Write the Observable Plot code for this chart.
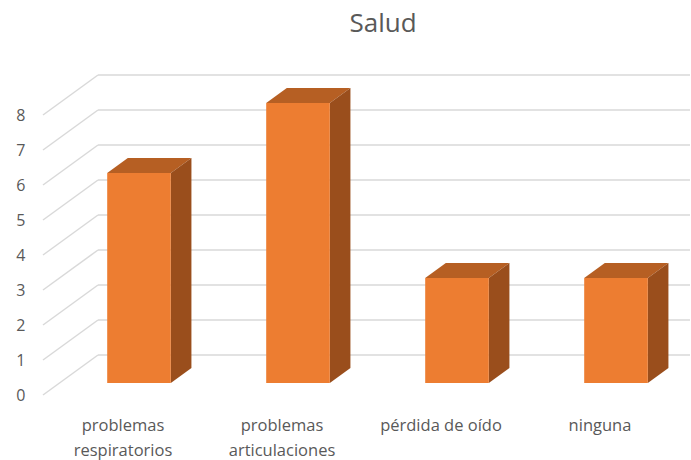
<!DOCTYPE html>
<html><head><meta charset="utf-8">
<script src="https://cdn.jsdelivr.net/npm/d3@7"></script>
<script src="https://cdn.jsdelivr.net/npm/@observablehq/plot@0.6"></script>
<style>
body{margin:0;background:#fff;font-family:"Open Sans",sans-serif;}
#wrap{position:relative;width:691px;height:460px;overflow:hidden;}
#title{position:absolute;left:383px;top:0;transform:translateX(-50%);font-size:26px;color:#595959;line-height:44px;white-space:nowrap;}
#chart{position:absolute;left:0;top:60px;}
</style></head>
<body><div id="wrap"><div id="title"></div><div id="chart"></div></div>
<script>
const title = "Salud";
const categories = ["problemas respiratorios", "problemas articulaciones", "pérdida de oído", "ninguna"];
const categoryLabels = ["problemas\nrespiratorios", "problemas\narticulaciones", "pérdida de oído", "ninguna"];
const values = [6, 8, 3, 3];
const yTicks = [0, 1, 2, 3, 4, 5, 6, 7, 8];

const FRONT = "#ED7D31", TOP = "#B65F23", SIDE = "#9A4E1C", GRID = "#D9D9D9";
const DX = 55, DY = -40;          // floor depth vector (pixels)
const BAR_Z0 = 0.3, BAR_Z1 = 0.675, BAR_W = 0.4;

document.getElementById("title").textContent = title;

function scene(index, scales, channels, dims) {
  const {x, y} = scales;
  const bw = x.bandwidth();
  const g = d3.create("svg:g");
  const x0 = dims.marginLeft;
  const wallRight = dims.width - 1;
  for (const t of yTicks) {
    g.append("line").attr("x1", x0 + DX).attr("x2", wallRight)
      .attr("y1", y(t) + DY).attr("y2", y(t) + DY)
      .attr("stroke", GRID).attr("stroke-width", 1.5);
    g.append("line").attr("x1", x0).attr("y1", y(t))
      .attr("x2", x0 + DX).attr("y2", y(t) + DY)
      .attr("stroke", GRID).attr("stroke-width", 1.5);
  }
  categories.forEach((c, i) => {
    const cx = x(c) + bw / 2 + DX * BAR_Z0;
    const w = bw * BAR_W;
    const l = cx - w / 2, r = cx + w / 2;
    const top = y(values[i]) + DY * BAR_Z0, bot = y(0) + DY * BAR_Z0;
    const ddx = DX * (BAR_Z1 - BAR_Z0), ddy = DY * (BAR_Z1 - BAR_Z0);
    const pts = p => p.map(q => q.join(",")).join(" ");
    g.append("polygon").attr("points", pts([[l, top], [r, top], [r + ddx, top + ddy], [l + ddx, top + ddy]]))
      .attr("fill", TOP);
    g.append("polygon").attr("points", pts([[r, top], [r + ddx, top + ddy], [r + ddx, bot + ddy], [r, bot]]))
      .attr("fill", SIDE);
    g.append("rect").attr("x", l).attr("y", top).attr("width", w).attr("height", bot - top)
      .attr("fill", FRONT);
  });
  return g.node();
}

const chart = Plot.plot({
  width: 691,
  height: 400,
  marginLeft: 43,
  marginRight: 12,
  marginTop: 55,
  marginBottom: 65,
  style: {fontFamily: "'Open Sans', sans-serif", fontSize: "15px", color: "#595959", background: "white"},
  x: {type: "band", domain: categories, padding: 0, axis: null},
  y: {domain: [0, 8], axis: null},
  marks: [
    scene,
    Plot.text(yTicks, {y: d => d, text: d => String(d), frameAnchor: "left", textAnchor: "end", dx: -18, fill: "#595959", fontSize: 16}),
    Plot.text(categories, {x: d => d, text: (d, i) => categoryLabels[i], frameAnchor: "bottom", lineAnchor: "top", dy: 18, lineHeight: 1.5, fill: "#595959", fontSize: 16.5})
  ]
});
document.getElementById("chart").appendChild(chart);
</script>
</body></html>
